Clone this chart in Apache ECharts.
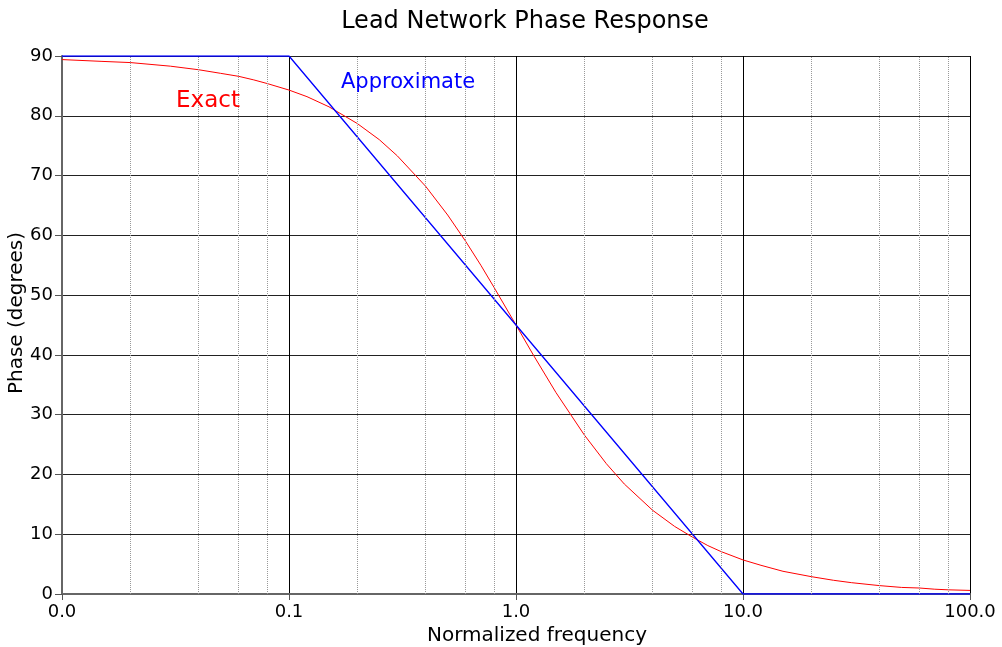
<!DOCTYPE html>
<html><head><meta charset="utf-8">
<script src="https://cdn.jsdelivr.net/npm/echarts@6/dist/echarts.min.js"></script>
<style>html,body{margin:0;padding:0;background:#fff}#c{width:1002px;height:647px}</style>
</head><body><div id="c"></div>
<script>
var exactFreq  = [0.01,0.015,0.02,0.03,0.04,0.05,0.06,0.07,0.08,0.1,0.12,0.15,0.2,0.25,0.3,0.4,0.5,0.6,0.7,0.8,1,1.2,1.5,2,2.5,3,4,5,6,7,8,10,12,15,20,25,30,40,50,60,70,80,100];
var exactPhase = [89.4,89.1,88.9,88.3,87.7,87.1,86.6,86.0,85.4,84.3,83.2,81.5,78.7,76.0,73.3,68.2,63.4,59.0,55.0,51.3,45.0,39.8,33.7,26.6,21.8,18.4,14.0,11.3,9.5,8.1,7.1,5.7,4.8,3.8,2.9,2.3,1.9,1.4,1.1,1.0,0.8,0.7,0.6];
var approxFreq  = [0.01,0.1,10,100];
var approxPhase = [90,90,0,0];
var decades = [0.01,0.1,1,10];
var minorMultiples = [2,4,6,8];

var minorLines = [];
decades.forEach(function(d){ minorMultiples.forEach(function(k){ minorLines.push({xAxis: +(d*k).toPrecision(3)}); }); });

var FONT = 'DejaVu Sans';
var chart = echarts.init(document.getElementById('c'));
chart.setOption({
  animation:false,
  textStyle:{fontFamily:FONT},
  title:{text:'Lead Network Phase Response', left:520, textAlign:'center', top:5,
    textStyle:{fontFamily:FONT, fontSize:24, fontWeight:'normal', color:'#000'}},
  grid:{left:62, right:32, top:56, bottom:53, containLabel:false, outerBoundsMode:'none'},
  graphic:[{type:'text', x:17, y:313, rotation:Math.PI/2, silent:true,
    style:{text:'Phase (degrees)', fontFamily:FONT, fontSize:20, fill:'#000', align:'center', verticalAlign:'middle'}}],
  xAxis:{type:'log', logBase:10, min:0.01, max:100,
    name:'Normalized frequency', nameLocation:'middle', nameGap:32,
    nameTextStyle:{fontFamily:FONT, fontSize:20, color:'#000', padding:[0,0,0,42]},
    axisLine:{lineStyle:{color:'#666', width:2}},
    axisTick:{show:true, length:6, lineStyle:{color:'#555'}},
    axisLabel:{fontFamily:FONT, fontSize:18, color:'#000', margin:9,
      formatter:function(v){return Number(v).toFixed(1);}},
    splitLine:{show:true, lineStyle:{color:'#000', width:1}}
  },
  yAxis:{type:'value', min:0, max:90, interval:10,
    axisLine:{show:true, lineStyle:{color:'#666', width:2}},
    axisTick:{show:true, length:7, lineStyle:{color:'#555'}},
    axisLabel:{fontFamily:FONT, fontSize:18, color:'#000', margin:9},
    splitLine:{show:true, lineStyle:{color:'#222', width:1}}
  },
  series:[
    {type:'line', data:[], silent:true,
      markLine:{silent:true, symbol:'none', label:{show:false},
        lineStyle:{type:'dotted', color:'#999', width:1}, data:minorLines}},
    {name:'Exact', type:'line', showSymbol:false, smooth:false,
      lineStyle:{color:'#ff0000', width:1}, itemStyle:{color:'#ff0000'},
      data: exactFreq.map(function(f,i){return [f, exactPhase[i]];}),
      markPoint:{symbol:'circle', symbolSize:0, silent:true,
        label:{show:true, position:'right', distance:0, formatter:'Exact', color:'#ff0000', fontFamily:FONT, fontSize:23},
        data:[{coord:[0.0318, 82.5]}]}},
    {name:'Approximate', type:'line', showSymbol:false,
      lineStyle:{color:'#0000ff', width:1.3}, itemStyle:{color:'#0000ff'},
      data: approxFreq.map(function(f,i){return [f, approxPhase[i]];}),
      markPoint:{symbol:'circle', symbolSize:0, silent:true,
        label:{show:true, position:'right', distance:0, formatter:'Approximate', color:'#0000ff', fontFamily:FONT, fontSize:21},
        data:[{coord:[0.1694, 85.6]}]}}
  ]
});
</script></body></html>
